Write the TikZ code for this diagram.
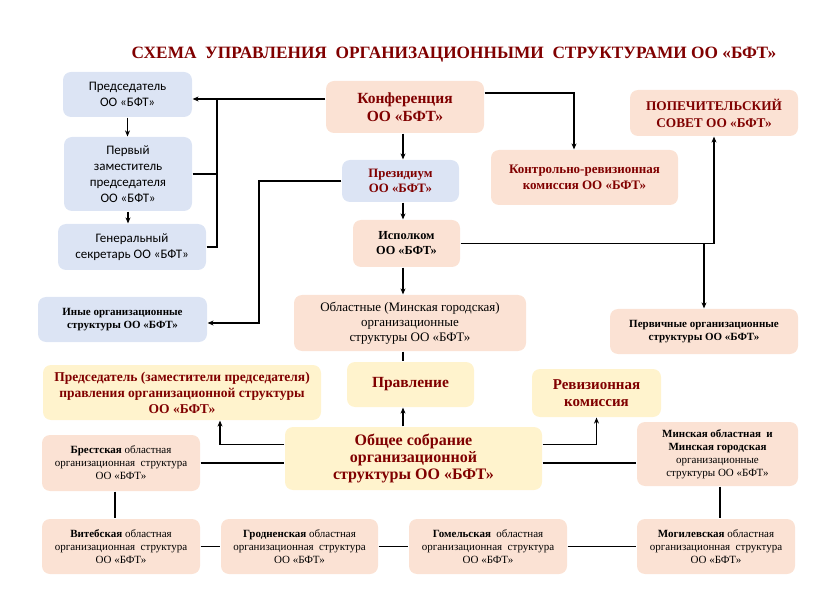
\documentclass[tikz,border=0pt]{standalone}
\usepackage{fontspec}
\setmainfont{Liberation Serif}
\newfontfamily\carlito{Carlito}
\usetikzlibrary{arrows.meta}
\definecolor{boxblue}{RGB}{220,228,244}
\definecolor{boxpeach}{RGB}{251,226,212}
\definecolor{boxyellow}{RGB}{255,243,205}
\definecolor{darkred}{RGB}{128,0,0}

\begin{document}
\begin{tikzpicture}[x=1pt,y=-1pt,line width=1.2pt,
  >={Stealth[length=6pt,width=5pt]},
  box/.style={rounded corners=8pt,align=center,inner sep=0pt},
  bluebox/.style={box,fill=boxblue},
  peachbox/.style={box,fill=boxpeach},
  yellowbox/.style={box,fill=boxyellow}]
\useasboundingbox (0,0) rectangle (840,601);
\coordinate (spine) at (403,0);
\coordinate (j1) at (217,99);
\coordinate (j2) at (259,323);
\coordinate (j3) at (220,0);
\coordinate (j4) at (115,0);
\coordinate (j5) at (720,0);
\coordinate (k1) at (574,0);
\node[text=darkred,font=\bfseries\fontsize{17.3}{20}\selectfont] (title) at (454,55)
  {СХЕМА\ \ УПРАВЛЕНИЯ\ \ ОРГАНИЗАЦИОННЫМИ\ \ СТРУКТУРАМИ ОО «БФТ»};
\node[bluebox,minimum width=129pt,minimum height=45pt,
      font=\carlito\fontsize{13}{16}\selectfont] (pred) at (127.5,94.5)
  {Председатель\\ОО «БФТ»};
\node[bluebox,minimum width=128pt,minimum height=74pt,
      font=\carlito\fontsize{13}{16}\selectfont] (perv) at (128,174)
  {Первый\\заместитель\\председателя\\ОО «БФТ»};
\node[bluebox,minimum width=148pt,minimum height=46pt,
      font=\carlito\fontsize{13}{16}\selectfont] (gen) at (132,247)
  {Генеральный\\секретарь ОО «БФТ»};
\node[peachbox,minimum width=158pt,minimum height=52pt,text=darkred,
      font=\bfseries\fontsize{15.5}{18}\selectfont] (konf) at (405,107)
  {Конференция\\ОО «БФТ»};
\node[bluebox,minimum width=117pt,minimum height=42pt,text=darkred,
      font=\bfseries\fontsize{12.8}{15}\selectfont] (prez) at (400.5,181)
  {Президиум\\ОО «БФТ»};
\node[peachbox,minimum width=187pt,minimum height=55pt,text=darkred,
      font=\bfseries\fontsize{13}{16}\selectfont] (krk) at (584.5,177.5)
  {Контрольно-ревизионная\\комиссия ОО «БФТ»};
\node[peachbox,minimum width=168pt,minimum height=46pt,text=darkred,
      font=\bfseries\fontsize{13.3}{17}\selectfont] (pop) at (714,113)
  {ПОПЕЧИТЕЛЬСКИЙ\\СОВЕТ ОО «БФТ»};
\node[peachbox,minimum width=107pt,minimum height=47pt,
      font=\bfseries\fontsize{12.3}{15}\selectfont] (isp) at (406.5,243.5)
  {Исполком\\ОО «БФТ»};
\node[bluebox,minimum width=169pt,minimum height=45pt,
      font=\bfseries\fontsize{11}{13}\selectfont] (inye) at (122.5,319.5)
  {Иные организационные\\структуры ОО «БФТ»};
\node[peachbox,minimum width=232pt,minimum height=56pt,
      font=\fontsize{13}{15}\selectfont] (obl) at (410,323)
  {Областные (Минская городская)\\организационные\\структуры ОО «БФТ»};
\node[peachbox,minimum width=188pt,minimum height=45pt,
      font=\bfseries\fontsize{11}{13}\selectfont] (prim) at (704,331.5)
  {Первичные организационные\\структуры ОО «БФТ»};
\node[yellowbox,minimum width=278pt,minimum height=55pt,text=darkred,
      font=\bfseries\fontsize{13.5}{16}\selectfont] (predpr) at (182,392.5)
  {Председатель (заместители председателя)\\правления организационной структуры\\ОО «БФТ»};
\node[yellowbox,minimum width=127pt,minimum height=45pt,text=darkred,
      font=\bfseries\fontsize{15.5}{18}\selectfont] (prav) at (410.5,384.5)
  {Правление};
\node[yellowbox,minimum width=129pt,minimum height=48pt,text=darkred,
      font=\bfseries\fontsize{15}{17}\selectfont] (rev) at (596.5,393)
  {Ревизионная\\комиссия};
\node[yellowbox,minimum width=257pt,minimum height=63pt,text=darkred,
      font=\bfseries\fontsize{16}{17}\selectfont] (obsh) at (413.5,458.5)
  {Общее собрание\\организационной\\структуры ОО «БФТ»};
\node[peachbox,minimum width=158pt,minimum height=56pt,
      font=\fontsize{11}{13}\selectfont] (brest) at (121,463)
  {\textbf{Брестская} областная\\организационная\ \ структура\\ОО «БФТ»};
\node[peachbox,minimum width=161pt,minimum height=64pt,
      font=\fontsize{11}{13}\selectfont] (minsk) at (717.5,454)
  {\textbf{Минская областная\ \ и}\\\textbf{Минская городская}\\организационные\\структуры ОО «БФТ»};
\node[peachbox,minimum width=158pt,minimum height=55pt,
      font=\fontsize{11}{13}\selectfont] (vit) at (121,546.5)
  {\textbf{Витебская} областная\\организационная\ \ структура\\ОО «БФТ»};
\node[peachbox,minimum width=157pt,minimum height=55pt,
      font=\fontsize{11}{13}\selectfont] (grod) at (299.5,546.5)
  {\textbf{Гродненская} областная\\организационная\ \ структура\\ОО «БФТ»};
\node[peachbox,minimum width=158pt,minimum height=55pt,
      font=\fontsize{11}{13}\selectfont] (gom) at (488,546.5)
  {\textbf{Гомельская}\ \ областная\\организационная\ \ структура\\ОО «БФТ»};
\node[peachbox,minimum width=158pt,minimum height=55pt,
      font=\fontsize{11}{13}\selectfont] (mog) at (716,546.5)
  {\textbf{Могилевская} областная\\организационная\ \ структура\\ОО «БФТ»};
\draw[->] ([yshift=8pt]konf.west) -- (j1) -- (pred.east |- j1);
\draw (perv.east) -| (j1);
\draw (gen.east) -| (j1);
\draw[->] (pred.south) -- (pred.south |- perv.north);
\draw[->] (perv.south) -- (perv.south |- gen.north);
\draw[->] (konf.south -| spine) -- (prez.north -| spine);
\draw[->] ([yshift=14pt]konf.east) -| (krk.north -| k1);
\draw[->] (prez.west) -| (j2) -- (inye.east |- j2);
\draw[->] (prez.south -| spine) -- (isp.north -| spine);
\draw[->] (isp.east) -| (pop.south);
\draw[->] (isp.east -| prim.north) -- (prim.north);
\draw[->] (isp.south -| spine) -- (obl.north -| spine);
\draw (obl.south -| spine) -- (prav.north -| spine);
\draw[->] (obsh.north -| spine) -- (prav.south -| spine);
\draw[->] ([yshift=14pt]obsh.west) -| (predpr.south -| j3);
\draw[->] ([yshift=14pt]obsh.east) -| (rev.south);
\draw (brest.east) -- (brest.east -| obsh.west);
\draw (brest.east -| obsh.east) -- (brest.east -| minsk.west);
\draw (brest.south -| j4) -- (vit.north -| j4);
\draw (vit) -- (grod) -- (gom) -- (mog);
\draw (minsk.south -| j5) -- (mog.north -| j5);
\end{tikzpicture}
\end{document}
